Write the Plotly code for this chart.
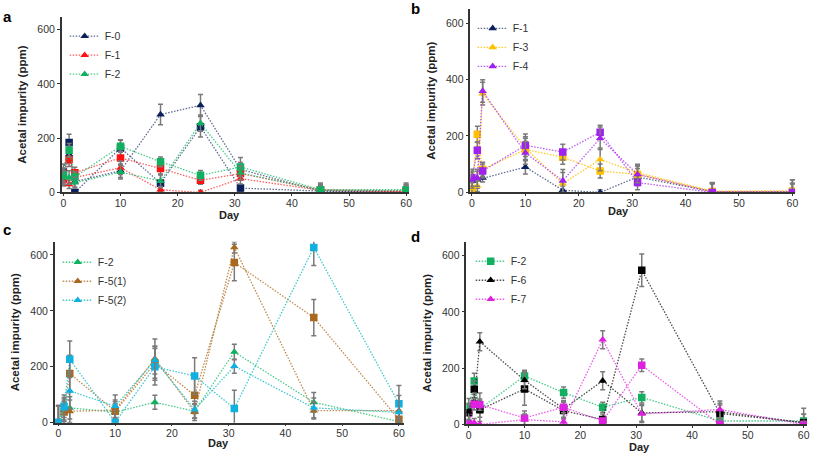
import plotly.graph_objects as go

days = [0, 1, 2, 10, 17, 24, 31, 45, 60]
y_ticks = [0, 200, 400, 600]
x_ticks = [0, 10, 20, 30, 40, 50, 60]

# ---------- panel a ----------
a_F0_tri = [60, 140, 40, 80, 287, 321, 85, 5, 3]
a_F0_tri_err = [25, 30, 20, 25, 38, 40, 25, 20, 20]
a_F0_sq = [75, 184, 0, 164, 34, 242, 16, 5, 0]
a_F0_sq_err = [30, 30, 8, 30, 30, 38, 12, 25, 30]
a_F1_tri = [45, 30, 55, 91, 10, 0, 51, 8, 3]
a_F1_tri_err = [20, 15, 20, 25, 12, 8, 20, 15, 15]
a_F1_sq = [50, 121, 73, 127, 88, 45, 70, 10, 5]
a_F1_sq_err = [25, 25, 20, 25, 20, 15, 25, 20, 20]
a_F2_tri = [55, 55, 36, 75, 42, 255, 72, 8, 8]
a_F2_tri_err = [25, 25, 20, 25, 25, 30, 25, 20, 20]
a_F2_sq = [65, 155, 57, 170, 113, 63, 94, 10, 10]
a_F2_sq_err = [25, 25, 20, 22, 18, 18, 35, 25, 25]

# ---------- panel b ----------
b_F1_tri = [40, 45, 52, 90, 8, 0, 55, 3, 3]
b_F1_tri_err = [30, 30, 15, 25, 15, 10, 30, 30, 30]
b_F3_tri = [15, 23, 350, 157, 31, 117, 70, 5, 5]
b_F3_tri_err = [20, 20, 40, 40, 40, 40, 30, 30, 40]
b_F3_sq = [14, 206, 82, 152, 125, 76, 64, 3, 5]
b_F3_sq_err = [20, 28, 25, 40, 25, 25, 30, 30, 40]
b_F4_tri = [45, 52, 359, 140, 41, 192, 64, 2, 2]
b_F4_tri_err = [30, 30, 40, 40, 40, 40, 30, 30, 30]
b_F4_sq = [52, 149, 76, 167, 143, 213, 35, 0, 0]
b_F4_sq_err = [30, 30, 25, 40, 28, 25, 25, 30, 30]

# ---------- panel c ----------
c_F2_tri = [0, 45, 53, 38, 73, 41, 253, 73, 4]
c_F2_tri_err = [60, 40, 40, 30, 25, 25, 28, 35, 30]
c_F51_tri = [0, 35, 41, 45, 229, 38, 627, 43, 43]
c_F51_tri_err = [60, 40, 40, 30, 70, 30, 20, 30, 30]
c_F51_sq = [0, 38, 176, 41, 212, 98, 573, 376, 12]
c_F51_sq_err = [60, 40, 65, 40, 60, 65, 65, 65, 60]
c_F52_tri = [0, 50, 114, 59, 224, 47, 202, 53, 37]
c_F52_tri_err = [60, 40, 65, 40, 50, 30, 25, 35, 60]
c_F52_sq = [2, 59, 227, 2, 200, 167, 51, 627, 68]
c_F52_sq_err = [60, 40, 65, 60, 65, 65, 65, 65, 65]

# ---------- panel d ----------
d_F2_sq = [62, 154, 55, 172, 113, 61, 96, 12, 12]
d_F2_sq_err = [30, 28, 30, 20, 20, 18, 20, 30, 45]
d_F6_tri = [45, 82, 294, 157, 55, 155, 41, 45, 6]
d_F6_tri_err = [30, 30, 32, 30, 30, 32, 30, 30, 30]
d_F6_sq = [41, 125, 52, 126, 49, 17, 548, 39, 6]
d_F6_sq_err = [30, 30, 60, 58, 30, 20, 58, 30, 30]
d_F7_tri = [2, 6, 0, 17, 9, 301, 37, 53, 0]
d_F7_tri_err = [15, 15, 10, 20, 12, 32, 30, 30, 10]
d_F7_sq = [2, 72, 70, 23, 61, 12, 210, 0, 0]
d_F7_sq_err = [15, 20, 20, 25, 20, 10, 22, 20, 10]

# marker colour, line colour
NAVY = ("#0B1F5C", "rgba(40,60,110,0.75)")
RED = ("#FF1010", "rgba(255,40,40,0.75)")
GREEN = ("#10B060", "rgba(30,190,110,0.8)")
YELLOW = ("#FFC000", "rgba(255,192,0,0.85)")
PURPLE = ("#A020F0", "rgba(170,50,240,0.8)")
BROWN = ("#A8681E", "rgba(180,120,50,0.85)")
CYAN = ("#10B0E0", "rgba(30,190,200,0.85)")
BLACK = ("#000000", "rgba(30,30,30,0.8)")
MAGENTA = ("#E020E0", "rgba(230,50,230,0.8)")

panels = [
    ("", "legend", [
        ("F-0", NAVY, a_F0_tri, a_F0_tri_err, a_F0_sq, a_F0_sq_err),
        ("F-1", RED, a_F1_tri, a_F1_tri_err, a_F1_sq, a_F1_sq_err),
        ("F-2", GREEN, a_F2_tri, a_F2_tri_err, a_F2_sq, a_F2_sq_err),
    ]),
    ("2", "legend2", [
        ("F-1", NAVY, b_F1_tri, b_F1_tri_err, None, None),
        ("F-3", YELLOW, b_F3_tri, b_F3_tri_err, b_F3_sq, b_F3_sq_err),
        ("F-4", PURPLE, b_F4_tri, b_F4_tri_err, b_F4_sq, b_F4_sq_err),
    ]),
    ("3", "legend3", [
        ("F-2", GREEN, c_F2_tri, c_F2_tri_err, None, None),
        ("F-5(1)", BROWN, c_F51_tri, c_F51_tri_err, c_F51_sq, c_F51_sq_err),
        ("F-5(2)", CYAN, c_F52_tri, c_F52_tri_err, c_F52_sq, c_F52_sq_err),
    ]),
    ("4", "legend4", [
        ("F-2", GREEN, None, None, d_F2_sq, d_F2_sq_err),
        ("F-6", BLACK, d_F6_tri, d_F6_tri_err, d_F6_sq, d_F6_sq_err),
        ("F-7", MAGENTA, d_F7_tri, d_F7_tri_err, d_F7_sq, d_F7_sq_err),
    ]),
]

fig = go.Figure()
err_style = dict(type="data", color="#7A7A7A", thickness=1.5, width=2.5)
DOT = "1.5px,1.5px"

for suffix, leg, series in panels:
    xa = "x" + suffix
    ya = "y" + suffix
    for name, (mcol, lcol), tri, tri_err, sq, sq_err in series:
        if sq is not None:
            fig.add_trace(go.Scatter(
                x=days, y=sq, mode="lines+markers", name=name,
                line=dict(color=lcol, width=1.3, dash=DOT),
                marker=dict(symbol="square", size=7.5, color=mcol),
                error_y=dict(array=sq_err, **err_style),
                xaxis=xa, yaxis=ya, legend=leg,
                showlegend=(tri is None),
            ))
        if tri is not None:
            fig.add_trace(go.Scatter(
                x=days, y=tri, mode="lines+markers", name=name,
                line=dict(color=lcol, width=1.3, dash=DOT),
                marker=dict(symbol="triangle-up", size=7.5, color=mcol),
                error_y=dict(array=tri_err, **err_style),
                xaxis=xa, yaxis=ya, legend=leg,
                showlegend=True,
            ))

W, H = 813, 460
FONT = "Arial, Liberation Sans, sans-serif"

def xd(a, b):
    return [a / W, b / W]

def yd(top, bottom):
    return [1 - bottom / H, 1 - top / H]

geo = {
    "": dict(xdom=xd(61, 410), ydom=yd(17, 195), xr=[-0.3, 60.5], yr=[0, 647]),
    "2": dict(xdom=xd(471.7, 798), ydom=yd(9, 195), xr=[-0.3, 60.5], yr=[0, 650]),
    "3": dict(xdom=xd(54, 405), ydom=yd(245, 428.3), xr=[-0.65, 60.9], yr=[0, 647]),
    "4": dict(xdom=xd(467.7, 810), ydom=yd(245, 430), xr=[-0.41, 60.6], yr=[0, 649]),
}

layout = dict(
    width=W, height=H,
    margin=dict(l=0, r=0, t=0, b=0),
    paper_bgcolor="white", plot_bgcolor="white",
    font=dict(family=FONT, size=10, color="#333333"),
)

for suffix, g in geo.items():
    xname = "xaxis" + suffix
    yname = "yaxis" + suffix
    layout[xname] = dict(
        domain=g["xdom"], range=g["xr"], anchor="y" + suffix,
        tickvals=x_ticks, showgrid=False, zeroline=False,
        showline=True, linecolor="#333333", linewidth=1.5,
        ticks="outside", ticklen=2, tickcolor="#333333",
        ticklabelstandoff=-2,
        tickfont=dict(size=10.5, color="#333333"),
    )
    layout[yname] = dict(
        domain=g["ydom"], range=g["yr"], anchor="x" + suffix,
        tickvals=y_ticks, showgrid=False, zeroline=False,
        showline=True, linecolor="#333333", linewidth=1.5,
        ticks="outside", ticklen=3, tickcolor="#333333",
        tickfont=dict(size=10.5, color="#333333"),
        title=dict(text="<b>Acetal impurity (ppm)</b>", font=dict(size=11.5, color="#222222"), standoff=8),
    )

leg_pos = {
    "legend": (64, 22),
    "legend2": (474, 14),
    "legend3": (57, 251),
    "legend4": (472, 250),
}
for lid, (px, py) in leg_pos.items():
    layout[lid] = dict(
        x=px / W, y=1 - py / H, xanchor="left", yanchor="top",
        bgcolor="rgba(0,0,0,0)", font=dict(size=10.5, color="#333333"),
        itemwidth=30, tracegroupgap=0,
    )

fig.update_layout(**layout)

labels = [("a", 7, 17), ("b", 417, 9), ("c", 6, 233), ("d", 417, 240)]
for txt, px, py in labels:
    fig.add_annotation(text="<b>%s</b>" % txt, x=px / W, y=1 - py / H,
                       xref="paper", yref="paper", showarrow=False,
                       xanchor="center", yanchor="middle",
                       font=dict(size=15, color="#000000", family=FONT))

day_titles = [(230, 218), (621, 214), (219, 449), (642, 453)]
for px, py in day_titles:
    fig.add_annotation(text="<b>Day</b>", x=px / W, y=1 - py / H,
                       xref="paper", yref="paper", showarrow=False,
                       xanchor="center", yanchor="middle",
                       font=dict(size=11, color="#222222", family=FONT))

fig.write_html("out.html", config={"displayModeBar": False},
               post_script="document.body.style.margin='0px';")
